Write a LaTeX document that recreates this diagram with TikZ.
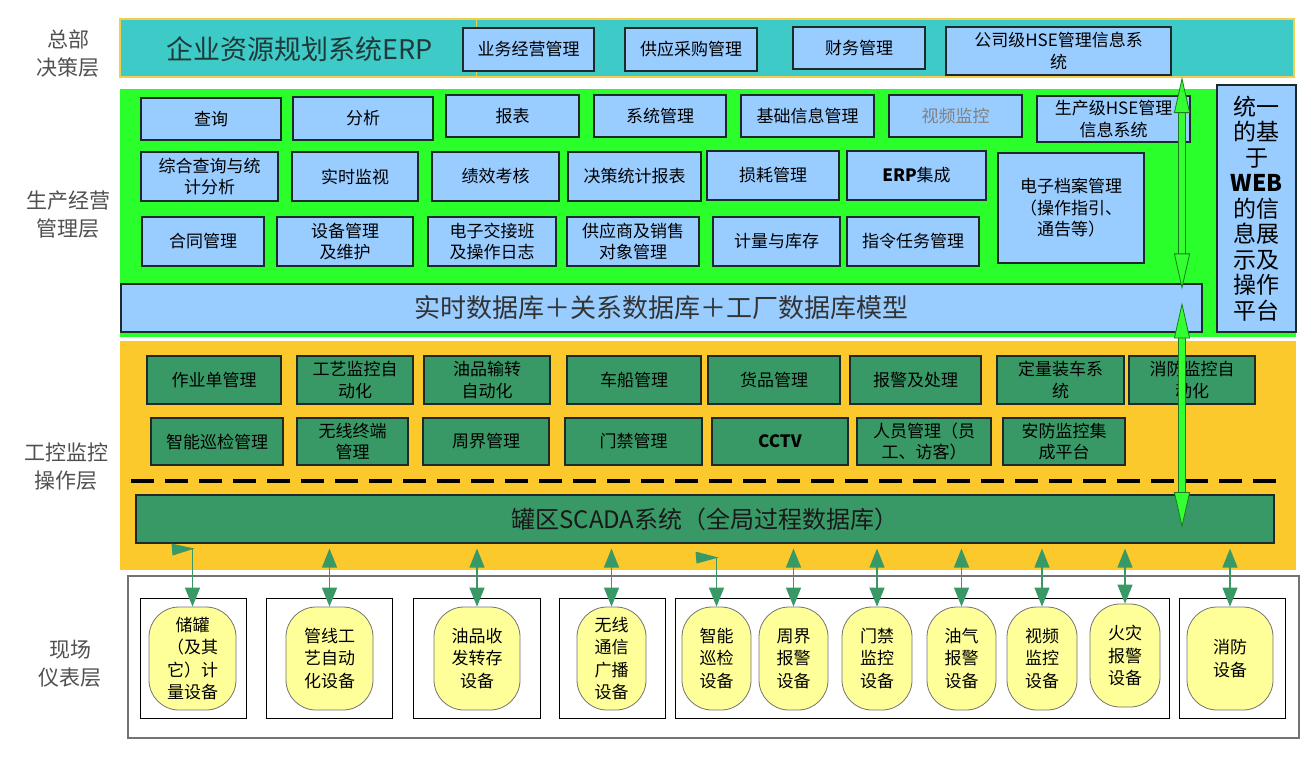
\documentclass[tikz,border=0pt]{standalone}
\usepackage{fontspec}
\setmainfont{Noto Sans CJK SC}
\usetikzlibrary{arrows.meta}

\definecolor{hqteal}{HTML}{3ECBC8}
\definecolor{hqedge}{HTML}{F2CF4A}
\definecolor{mgreen}{HTML}{2BFF2B}
\definecolor{lblue}{HTML}{99CCFF}
\definecolor{ctrlorange}{HTML}{FCC92C}
\definecolor{dgreen}{HTML}{389966}
\definecolor{devyellow}{HTML}{FFFF99}
\definecolor{bgreen}{HTML}{33FF33}
\definecolor{bgedge}{HTML}{1E7A1E}
\definecolor{boxedge}{HTML}{1E2A2A}
\definecolor{labelgray}{HTML}{505050}
\definecolor{erpgray}{HTML}{1F3838}

\begin{document}
\begin{tikzpicture}[x=1pt, y=-1pt,
  wh/.style 2 args={minimum width=#1, minimum height=#2},
  layer/.style={inner sep=0pt, outer sep=0pt},
  lbl/.style={align=center, text=labelgray, font=\fontsize{21}{28}\selectfont},
  bluebox/.style={draw=boxedge, line width=1.1pt, fill=lblue, inner sep=0pt, align=center, text=black, font=\fontsize{17}{21.5}\selectfont},
  greenbox/.style={bluebox, fill=dgreen},
  frame/.style={draw=black, line width=0.8pt, inner sep=0pt},
  device/.style={draw=black!55, line width=0.8pt, fill=devyellow, rounded corners=30pt, inner sep=0pt, align=center, font=\fontsize{17}{22.5}\selectfont},
  devarrow/.style={draw=dgreen, line width=1.3pt, >={Triangle[length=19pt, width=15pt]}},
  bigarrow/.style={draw=bgreen, line width=6pt,
    >={Triangle[length=36pt, width=16pt, line width=0.8pt, color=bgedge, fill=bgreen]},
    preaction={draw=bgedge, line width=7.6pt, arrows=-, shorten <=34pt, shorten >=34pt}},
  cut/.style={line width=3.5pt, dash pattern=on 23pt off 11pt}]

  \useasboundingbox (0,0) rectangle (1316,756);

  % layers
  \node[layer, fill=hqteal, draw=hqedge, line width=1.5pt, wh={1174}{58}] (hq) at (707,48) {};
  \node[layer, fill=mgreen, wh={1176}{248}] (mgt) at (708,213) {};
  \node[layer, fill=ctrlorange, wh={1176}{229}] (ctrl) at (708,455.5) {};
  \node[layer, draw=black!55, line width=1.5pt, wh={1171}{162}] (field) at (713.5,657) {};

  % layer labels
  \node[lbl] (l1) at (68,54) {总部\\决策层};
  \node[lbl] (l2) at (68,215) {生产经营\\管理层};
  \node[lbl] (l3) at (66,467) {工控监控\\操作层};
  \node[lbl] (l4) at (70,664) {现场\\仪表层};

  % headquarters
  \draw[hqedge, line width=1pt] (476,19) -- (476,77);
  \node[text=erpgray, font=\fontsize{27}{30}\selectfont] (erp) at (300,49) {企业资源规划系统ERP};
  \node[bluebox, wh={131}{43}] (yw) at (528.5,49.5) {业务经营管理};
  \node[bluebox, wh={132}{43}] (gy) at (691,49.5) {供应采购管理};
  \node[bluebox, wh={132}{42}] (cw) at (859,48) {财务管理};
  \node[bluebox, wh={225}{48}] (hse1) at (1058.5,51) {公司级HSE管理信息系\\统};

  % management, row 1
  \node[bluebox, wh={140}{42}] (cx) at (211,119) {查询};
  \node[bluebox, wh={140}{43}] (fx) at (363,118.5) {分析};
  \node[bluebox, wh={133}{42}] (bb) at (512.5,116) {报表};
  \node[bluebox, wh={132}{42}] (xt) at (660,116) {系统管理};
  \node[bluebox, wh={133}{42}] (jc) at (807.5,116) {基础信息管理};
  \node[bluebox, wh={133}{42}, text=black!50] (sp) at (955.5,116) {视频监控};
  \node[bluebox, wh={153}{46}] (hse2) at (1113.5,119) {生产级HSE管理\\信息系统};
  % management, row 2
  \node[bluebox, wh={137}{49}] (zh) at (209.5,176.5) {综合查询与统\\计分析};
  \node[bluebox, wh={126}{49}] (ss) at (355,176.5) {实时监视};
  \node[bluebox, wh={127}{49}] (jx) at (495.5,176.5) {绩效考核};
  \node[bluebox, wh={133}{49}] (jctj) at (634.5,176.5) {决策统计报表};
  \node[bluebox, wh={132}{49}] (sh) at (773,175.5) {损耗管理};
  \node[bluebox, wh={139}{49}] (erpjc) at (916.5,175.5) {\textbf{ERP}集成};
  \node[bluebox, wh={146}{110}] (da) at (1071,208) {电子档案管理\\（操作指引、\\通告等）};
  % management, row 3
  \node[bluebox, wh={122}{49}] (ht) at (203,241.5) {合同管理};
  \node[bluebox, wh={136}{49}] (sb) at (345,241.5) {设备管理\\及维护};
  \node[bluebox, wh={128}{49}] (jj) at (492,241.5) {电子交接班\\及操作日志};
  \node[bluebox, wh={132}{49}] (gys) at (633,241.5) {供应商及销售\\对象管理};
  \node[bluebox, wh={127}{49}] (jl) at (776.5,241.5) {计量与库存};
  \node[bluebox, wh={132}{49}] (zl) at (913,241.5) {指令任务管理};
  % databases and web platform
  \node[bluebox, wh={1081}{48}, text=black!80, font=\fontsize{26}{30}\selectfont] (db) at (661.5,308) {实时数据库＋关系数据库＋工厂数据库模型};
  \node[bluebox, wh={79}{247}, font=\fontsize{23}{25.5}\selectfont] (web) at (1256.5,208.5) {统一\\的基\\于\\\textbf{WEB}\\的信\\息展\\示及\\操作\\平台};

  % control, row 1
  \node[greenbox, wh={134}{48}] (zy) at (214,380) {作业单管理};
  \node[greenbox, wh={116}{48}] (gyjk) at (355,380) {工艺监控自\\动化};
  \node[greenbox, wh={126}{48}] (ypsz) at (487,380) {油品输转\\自动化};
  \node[greenbox, wh={134}{48}] (cc) at (634,380) {车船管理};
  \node[greenbox, wh={132}{48}] (hp) at (774,380) {货品管理};
  \node[greenbox, wh={131}{48}] (bj) at (915.5,380) {报警及处理};
  \node[greenbox, wh={127}{48}] (dl) at (1060.5,380) {定量装车系\\统};
  \node[greenbox, wh={126}{48}] (xfjk) at (1192,380) {消防监控自\\动化};
  % control, row 2
  \node[greenbox, wh={132}{47}] (znxj) at (217,441.5) {智能巡检管理};
  \node[greenbox, wh={111}{47}] (wxzd) at (352.5,441.5) {无线终端\\管理};
  \node[greenbox, wh={126}{47}] (zj) at (486,441.5) {周界管理};
  \node[greenbox, wh={137}{47}] (mj) at (633.5,441.5) {门禁管理};
  \node[greenbox, wh={136}{47}] (cctv) at (780,441.5) {\textbf{CCTV}};
  \node[greenbox, wh={134}{47}] (ry) at (924,441.5) {人员管理（员\\工、访客）};
  \node[greenbox, wh={122}{47}] (af) at (1064,441.5) {安防监控集\\成平台};
  % scada
  \draw[cut] (131,481) -- (1278,481);
  \node[greenbox, wh={1138}{48}, text=black!90, font=\fontsize{24}{28}\selectfont] (scada) at (705,519) {罐区SCADA系统（全局过程数据库）};

  % field frames
  \node[frame, wh={106}{120}] (f1) at (193,658) {};
  \node[frame, wh={126}{120}] (f2) at (329,658) {};
  \node[frame, wh={127}{120}] (f3) at (476.5,658) {};
  \node[frame, wh={106}{120}] (f4) at (612,658) {};
  \node[frame, wh={494}{120}] (f5) at (922,658) {};
  \node[frame, wh={106}{120}] (f6) at (1232,658) {};
  % field devices
  \node[device, wh={87}{103}] (d1) at (192.5,658.5) {储罐\\（及其\\它）计\\量设备};
  \node[device, wh={87}{103}] (d2) at (329.5,658.5) {管线工\\艺自动\\化设备};
  \node[device, wh={86}{103}] (d3) at (477,658.5) {油品收\\发转存\\设备};
  \node[device, wh={69}{103}] (d4) at (611.5,658.5) {无线\\通信\\广播\\设备};
  \node[device, wh={69}{103}] (d5) at (716.5,658.5) {智能\\巡检\\设备};
  \node[device, wh={69}{103}] (d6) at (793.5,658.5) {周界\\报警\\设备};
  \node[device, wh={70}{103}] (d7) at (877,658.5) {门禁\\监控\\设备};
  \node[device, wh={69}{103}] (d8) at (961.5,658.5) {油气\\报警\\设备};
  \node[device, wh={70}{103}] (d9) at (1042,658.5) {视频\\监控\\设备};
  \node[device, wh={70}{103}] (d10) at (1125,655.5) {火灾\\报警\\设备};
  \node[device, wh={86}{103}] (d11) at (1230,658.5) {消防\\设备};

  % web links
  \coordinate (axis) at (1182,0);
  \draw[bigarrow, <->] (hq.south -| axis) -- ([yshift=-6pt]db.north -| axis);
  \draw[bigarrow, <->] ([yshift=-19pt]db.north -| axis) -- ([yshift=-9pt]scada.center -| axis);

  % field links
  \coordinate (bus) at ([yshift=-5pt]scada.south);
  \draw[devarrow, ->] (bus -| d1.north) -- (d1.north);
  \fill[dgreen] ([xshift=2pt]bus -| d1.north) -- ++(-23,-5) -- ++(1,12) -- cycle;
  \draw[devarrow, <->] (bus -| d2.north) -- (d2.north);
  \draw[devarrow, <->] (bus -| d3.north) -- (d3.north);
  \draw[devarrow, <->] (bus -| d4.north) -- (d4.north);
  \draw[devarrow, ->] ([yshift=-9pt]bus -| d5.north) -- (d5.north);
  \fill[dgreen] ([xshift=2pt, yshift=-9pt]bus -| d5.north) -- ++(-23,-6) -- ++(1,12) -- cycle;
  \draw[devarrow, <->] (bus -| d6.north) -- (d6.north);
  \draw[devarrow, <->] (bus -| d7.north) -- (d7.north);
  \draw[devarrow, <->] (bus -| d8.north) -- (d8.north);
  \draw[devarrow, <->] (bus -| d9.north) -- (d9.north);
  \draw[devarrow, <->] (bus -| d10.north) -- (d10.north);
  \draw[devarrow, <->] (bus -| d11.north) -- (d11.north);
\end{tikzpicture}
\end{document}
